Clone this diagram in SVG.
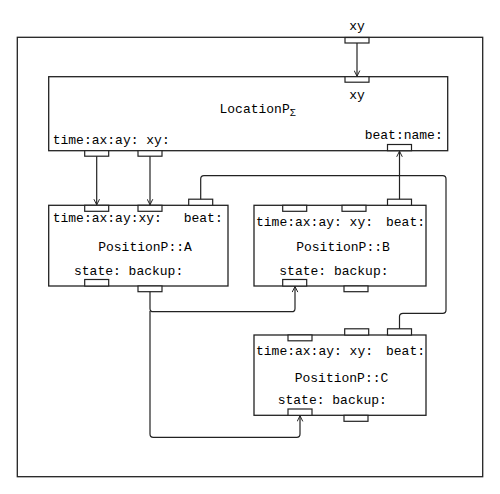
<svg xmlns="http://www.w3.org/2000/svg" width="500" height="494" viewBox="0 0 500 494">
<style>
.box{fill:#fff;stroke:#222;stroke-width:1.3}
.port{fill:#fff;stroke:#222;stroke-width:1.2}
.t{font-family:"Liberation Mono","DejaVu Sans Mono",monospace;font-size:13px;fill:#000}
.c{fill:none;stroke:#222;stroke-width:1.2;stroke-linejoin:round}
</style>
<defs>
<marker id="ar" viewBox="0 0 10 10" refX="9" refY="5" markerWidth="7" markerHeight="7" markerUnits="userSpaceOnUse" orient="auto">
<path d="M1,1 L9,5 L1,9" fill="none" stroke="#222" stroke-width="1.4"/>
</marker>
</defs>
<rect width="500" height="494" fill="#fff"/>
<g id="frame">
<rect class="box" x="17.3" y="37.3" width="465.4" height="439.4"/>
<rect class="port" x="345" y="37.5" width="24" height="5.5"/>
<text class="t" x="357" y="29.5" text-anchor="middle">xy</text>
</g>
<g id="LocationP">
<rect class="box" x="48.7" y="76.7" width="399" height="74"/>
<rect class="port" x="345" y="76.7" width="24" height="5.5"/>
<text class="t" x="357" y="99" text-anchor="middle">xy</text>
<text class="t" x="219.5" y="113">LocationP<tspan font-size="10" dy="3">Σ</tspan></text>
<text class="t" x="52.7" y="143.5">time:ax:ay: xy:</text>
<text class="t" x="442.7" y="139" text-anchor="end">beat:name:</text>
<rect class="port" x="84.7" y="150.7" width="24" height="5.5"/>
<rect class="port" x="138" y="150.7" width="24" height="5.5"/>
<rect class="port" x="387.5" y="144.5" width="24" height="6.2"/>
</g>
<g id="PositionA">
<rect class="box" x="48.7" y="205.3" width="179.3" height="80.7"/>
<rect class="port" x="84.7" y="205.3" width="24" height="6"/>
<rect class="port" x="138" y="205.3" width="24" height="6"/>
<rect class="port" x="188.7" y="199.2" width="24" height="6.1"/>
<text class="t" x="52.7" y="222">time:ax:ay:xy:</text>
<text class="t" x="222.7" y="222" text-anchor="end">beat:</text>
<text class="t" x="145" y="250.5" text-anchor="middle">PositionP::A</text>
<text class="t" x="74" y="275">state: backup:</text>
<rect class="port" x="84.7" y="279.5" width="24" height="6.5"/>
<rect class="port" x="138" y="286" width="24" height="5.7"/>
</g>
<g id="PositionB">
<rect class="box" x="254" y="205.3" width="172" height="80.7"/>
<rect class="port" x="282.7" y="205.3" width="24" height="6"/>
<rect class="port" x="342" y="205.3" width="24" height="6"/>
<rect class="port" x="387.5" y="199.2" width="24" height="6.1"/>
<text class="t" x="256" y="226">time:ax:ay: xy:</text>
<text class="t" x="425" y="226" text-anchor="end">beat:</text>
<text class="t" x="343" y="250.5" text-anchor="middle">PositionP::B</text>
<text class="t" x="279.3" y="274.5">state: backup:</text>
<rect class="port" x="282.7" y="279.5" width="24" height="6.5"/>
<rect class="port" x="344" y="286" width="24" height="5.7"/>
</g>
<g id="PositionC">
<rect class="box" x="254" y="335" width="172" height="80.3"/>
<rect class="port" x="288" y="335" width="24" height="5.8"/>
<rect class="port" x="344.7" y="328.8" width="24" height="6.2"/>
<rect class="port" x="387.5" y="328.8" width="24" height="6.2"/>
<text class="t" x="256" y="354.5">time:ax:ay: xy:</text>
<text class="t" x="425" y="354.5" text-anchor="end">beat:</text>
<text class="t" x="341.5" y="381.5" text-anchor="middle">PositionP::C</text>
<text class="t" x="277.7" y="403.5">state: backup:</text>
<rect class="port" x="288" y="409" width="24" height="6.3"/>
<rect class="port" x="344" y="415.3" width="24" height="6"/>
</g>
<g id="connectors">
<path class="c" d="M357,43 V76.2" marker-end="url(#ar)"/>
<path class="c" d="M96.7,156.2 V204.8" marker-end="url(#ar)"/>
<path class="c" d="M150,156.2 V204.8" marker-end="url(#ar)"/>
<path class="c" d="M200.7,199.2 V179 Q200.7,175.7 204,175.7 H442.7 Q446,175.7 446,179 V310 Q446,313.3 442.7,313.3 H403 Q399.5,313.3 399.5,316.6 V328.8"/>
<path class="c" d="M399.5,199.2 V151.2" marker-end="url(#ar)"/>
<path class="c" d="M150,291.7 V308.4 Q150,311.7 153.3,311.7 H291.7 Q295,311.7 295,308.4 V286.5" marker-end="url(#ar)"/>
<path class="c" d="M150,311 V434 Q150,437.3 153.3,437.3 H296.7 Q300,437.3 300,434 V415.8" marker-end="url(#ar)"/>
</g>
</svg>
